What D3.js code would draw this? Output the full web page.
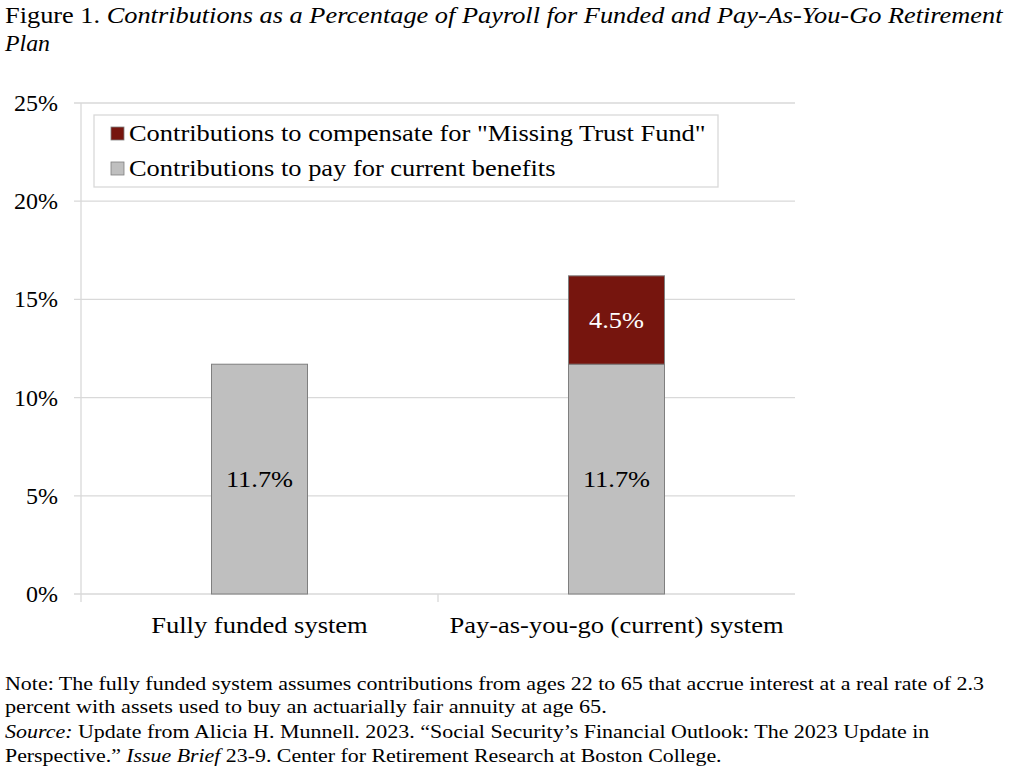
<!DOCTYPE html>
<html>
<head>
<meta charset="utf-8">
<script src="https://cdn.jsdelivr.net/npm/d3@7"></script>
<style>
  body { margin: 0; background: #fff; }
</style>
</head>
<body>
<svg width="1024" height="773" font-family="Liberation Serif, Tinos, Times New Roman, Times, serif"></svg>
<script>
const categories = ["Fully funded system", "Pay-as-you-go (current) system"];
const currentBenefits = [11.7, 11.7];
const missingTrustFund = [0, 4.5];
const yTicks = [0, 5, 10, 15, 20, 25];
const seriesNames = ["Contributions to compensate for \"Missing Trust Fund\"", "Contributions to pay for current benefits"];

const svg = d3.select("svg");
const margin = {left: 81, right: 795, top: 103, bottom: 594};

const x = d3.scaleBand().domain(categories).range([margin.left, margin.right]);
const y = d3.scaleLinear().domain([0, 25]).range([margin.bottom, margin.top]);
const barW = 96;

// scale a text element horizontally to a target width
function fitWidth(sel, x0, w) {
  const len = sel.node().getComputedTextLength();
  sel.attr("transform", `translate(${x0},0) scale(${w / len},1) translate(${-x0},0)`);
}
// stretch horizontally around its anchor x
function stretch(sel, k) {
  sel.attr("transform", function () {
    const ax = +this.getAttribute("x");
    return `translate(${ax},0) scale(${k},1) translate(${-ax},0)`;
  });
}

// title
const t1 = svg.append("text").attr("x", 5).attr("y", 23).style("font-size", "23px");
t1.append("tspan").text("Figure 1. ");
t1.append("tspan").style("font-style", "italic").text("Contributions as a Percentage of Payroll for Funded and Pay-As-You-Go Retirement");
fitWidth(t1, 5, 998);
svg.append("text").attr("x", 5).attr("y", 51).style("font-size", "23px").style("font-style", "italic")
  .text("Plan").call(s => fitWidth(s, 5, 45));

// gridlines
svg.append("g").selectAll("line").data(yTicks).join("line")
  .attr("x1", margin.left - 7).attr("x2", margin.right)
  .attr("y1", d => y(d)).attr("y2", d => y(d))
  .attr("stroke", "#d9d9d9").attr("stroke-width", 1.3);

// y axis line and category tick
svg.append("line").attr("x1", margin.left).attr("x2", margin.left)
  .attr("y1", margin.top).attr("y2", margin.bottom + 8)
  .attr("stroke", "#d9d9d9").attr("stroke-width", 1.3);
svg.append("line")
  .attr("x1", x(categories[1])).attr("x2", x(categories[1]))
  .attr("y1", margin.bottom).attr("y2", margin.bottom + 8)
  .attr("stroke", "#d9d9d9").attr("stroke-width", 1.3);

// y labels
svg.append("g").selectAll("text").data(yTicks).join("text")
  .attr("x", 58).attr("y", d => y(d) + 8)
  .attr("text-anchor", "end").style("font-size", "24px")
  .text(d => d + "%");

// bars
const cx = d => x(d) + x.bandwidth() / 2;
svg.append("g").selectAll("rect").data(categories).join("rect")
  .attr("x", d => cx(d) - barW / 2).attr("width", barW)
  .attr("y", (d, i) => y(currentBenefits[i]))
  .attr("height", (d, i) => y(0) - y(currentBenefits[i]))
  .attr("fill", "#bfbfbf").attr("stroke", "#7f7f7f").attr("stroke-width", 1);

svg.append("g").selectAll("rect").data(categories.filter((d, i) => missingTrustFund[i] > 0)).join("rect")
  .attr("x", d => cx(d) - barW / 2).attr("width", barW)
  .attr("y", d => { const i = categories.indexOf(d); return y(currentBenefits[i] + missingTrustFund[i]); })
  .attr("height", d => { const i = categories.indexOf(d); return y(currentBenefits[i]) - y(currentBenefits[i] + missingTrustFund[i]); })
  .attr("fill", "#76150e").attr("stroke", "#7f7f7f").attr("stroke-width", 1);

// bar labels
svg.append("g").selectAll("text").data(categories).join("text")
  .attr("x", cx).attr("y", (d, i) => y(currentBenefits[i] / 2) + 8)
  .attr("text-anchor", "middle").style("font-size", "24px")
  .text((d, i) => currentBenefits[i].toFixed(1) + "%")
  .call(stretch, 1.1);
svg.append("g").selectAll("text").data(categories.filter((d, i) => missingTrustFund[i] > 0)).join("text")
  .attr("x", cx)
  .attr("y", d => { const i = categories.indexOf(d); return y(currentBenefits[i] + missingTrustFund[i] / 2) + 8; })
  .attr("text-anchor", "middle").style("font-size", "24px").attr("fill", "#fff")
  .text(d => missingTrustFund[categories.indexOf(d)].toFixed(1) + "%")
  .call(stretch, 1.1);

// category labels
svg.append("g").selectAll("text").data(categories).join("text")
  .attr("x", cx).attr("y", 633)
  .attr("text-anchor", "middle").style("font-size", "24px")
  .text(d => d)
  .call(stretch, 1.105);

// legend
const lg = svg.append("g");
lg.append("rect").attr("x", 94).attr("y", 115).attr("width", 624).attr("height", 72)
  .attr("fill", "#fff").attr("stroke", "#d9d9d9").attr("stroke-width", 1.3);
const lcol = ["#76150e", "#bfbfbf"];
seriesNames.forEach((n, i) => {
  const yy = 133 + i * 35;
  lg.append("rect").attr("x", 111).attr("y", yy - 6).attr("width", 13).attr("height", 13)
    .attr("fill", lcol[i]).attr("stroke", "#7f7f7f").attr("stroke-width", 0.8);
  lg.append("text").attr("x", 129).attr("y", yy + 8).style("font-size", "23px").text(n)
    .call(stretch, 1.15);
});

// notes
const notes = [
  {y: 690, w: 980, parts: [["Note: The fully funded system assumes contributions from ages 22 to 65 that accrue interest at a real rate of 2.3", false]]},
  {y: 713, w: 602, parts: [["percent with assets used to buy an actuarially fair annuity at age 65.", false]]},
  {y: 738, w: 925, parts: [["Source:", true], [" Update from Alicia H. Munnell. 2023. \u201cSocial Security\u2019s Financial Outlook: The 2023 Update in", false]]},
  {y: 762, w: 717, parts: [["Perspective.\u201d ", false], ["Issue Brief", true], [" 23-9. Center for Retirement Research at Boston College.", false]]}
];
notes.forEach(n => {
  const t = svg.append("text").attr("x", 5).attr("y", n.y).style("font-size", "19px");
  n.parts.forEach(p => t.append("tspan").style("font-style", p[1] ? "italic" : "normal").text(p[0]));
  fitWidth(t, 5, n.w);
});
</script>
</body>
</html>
